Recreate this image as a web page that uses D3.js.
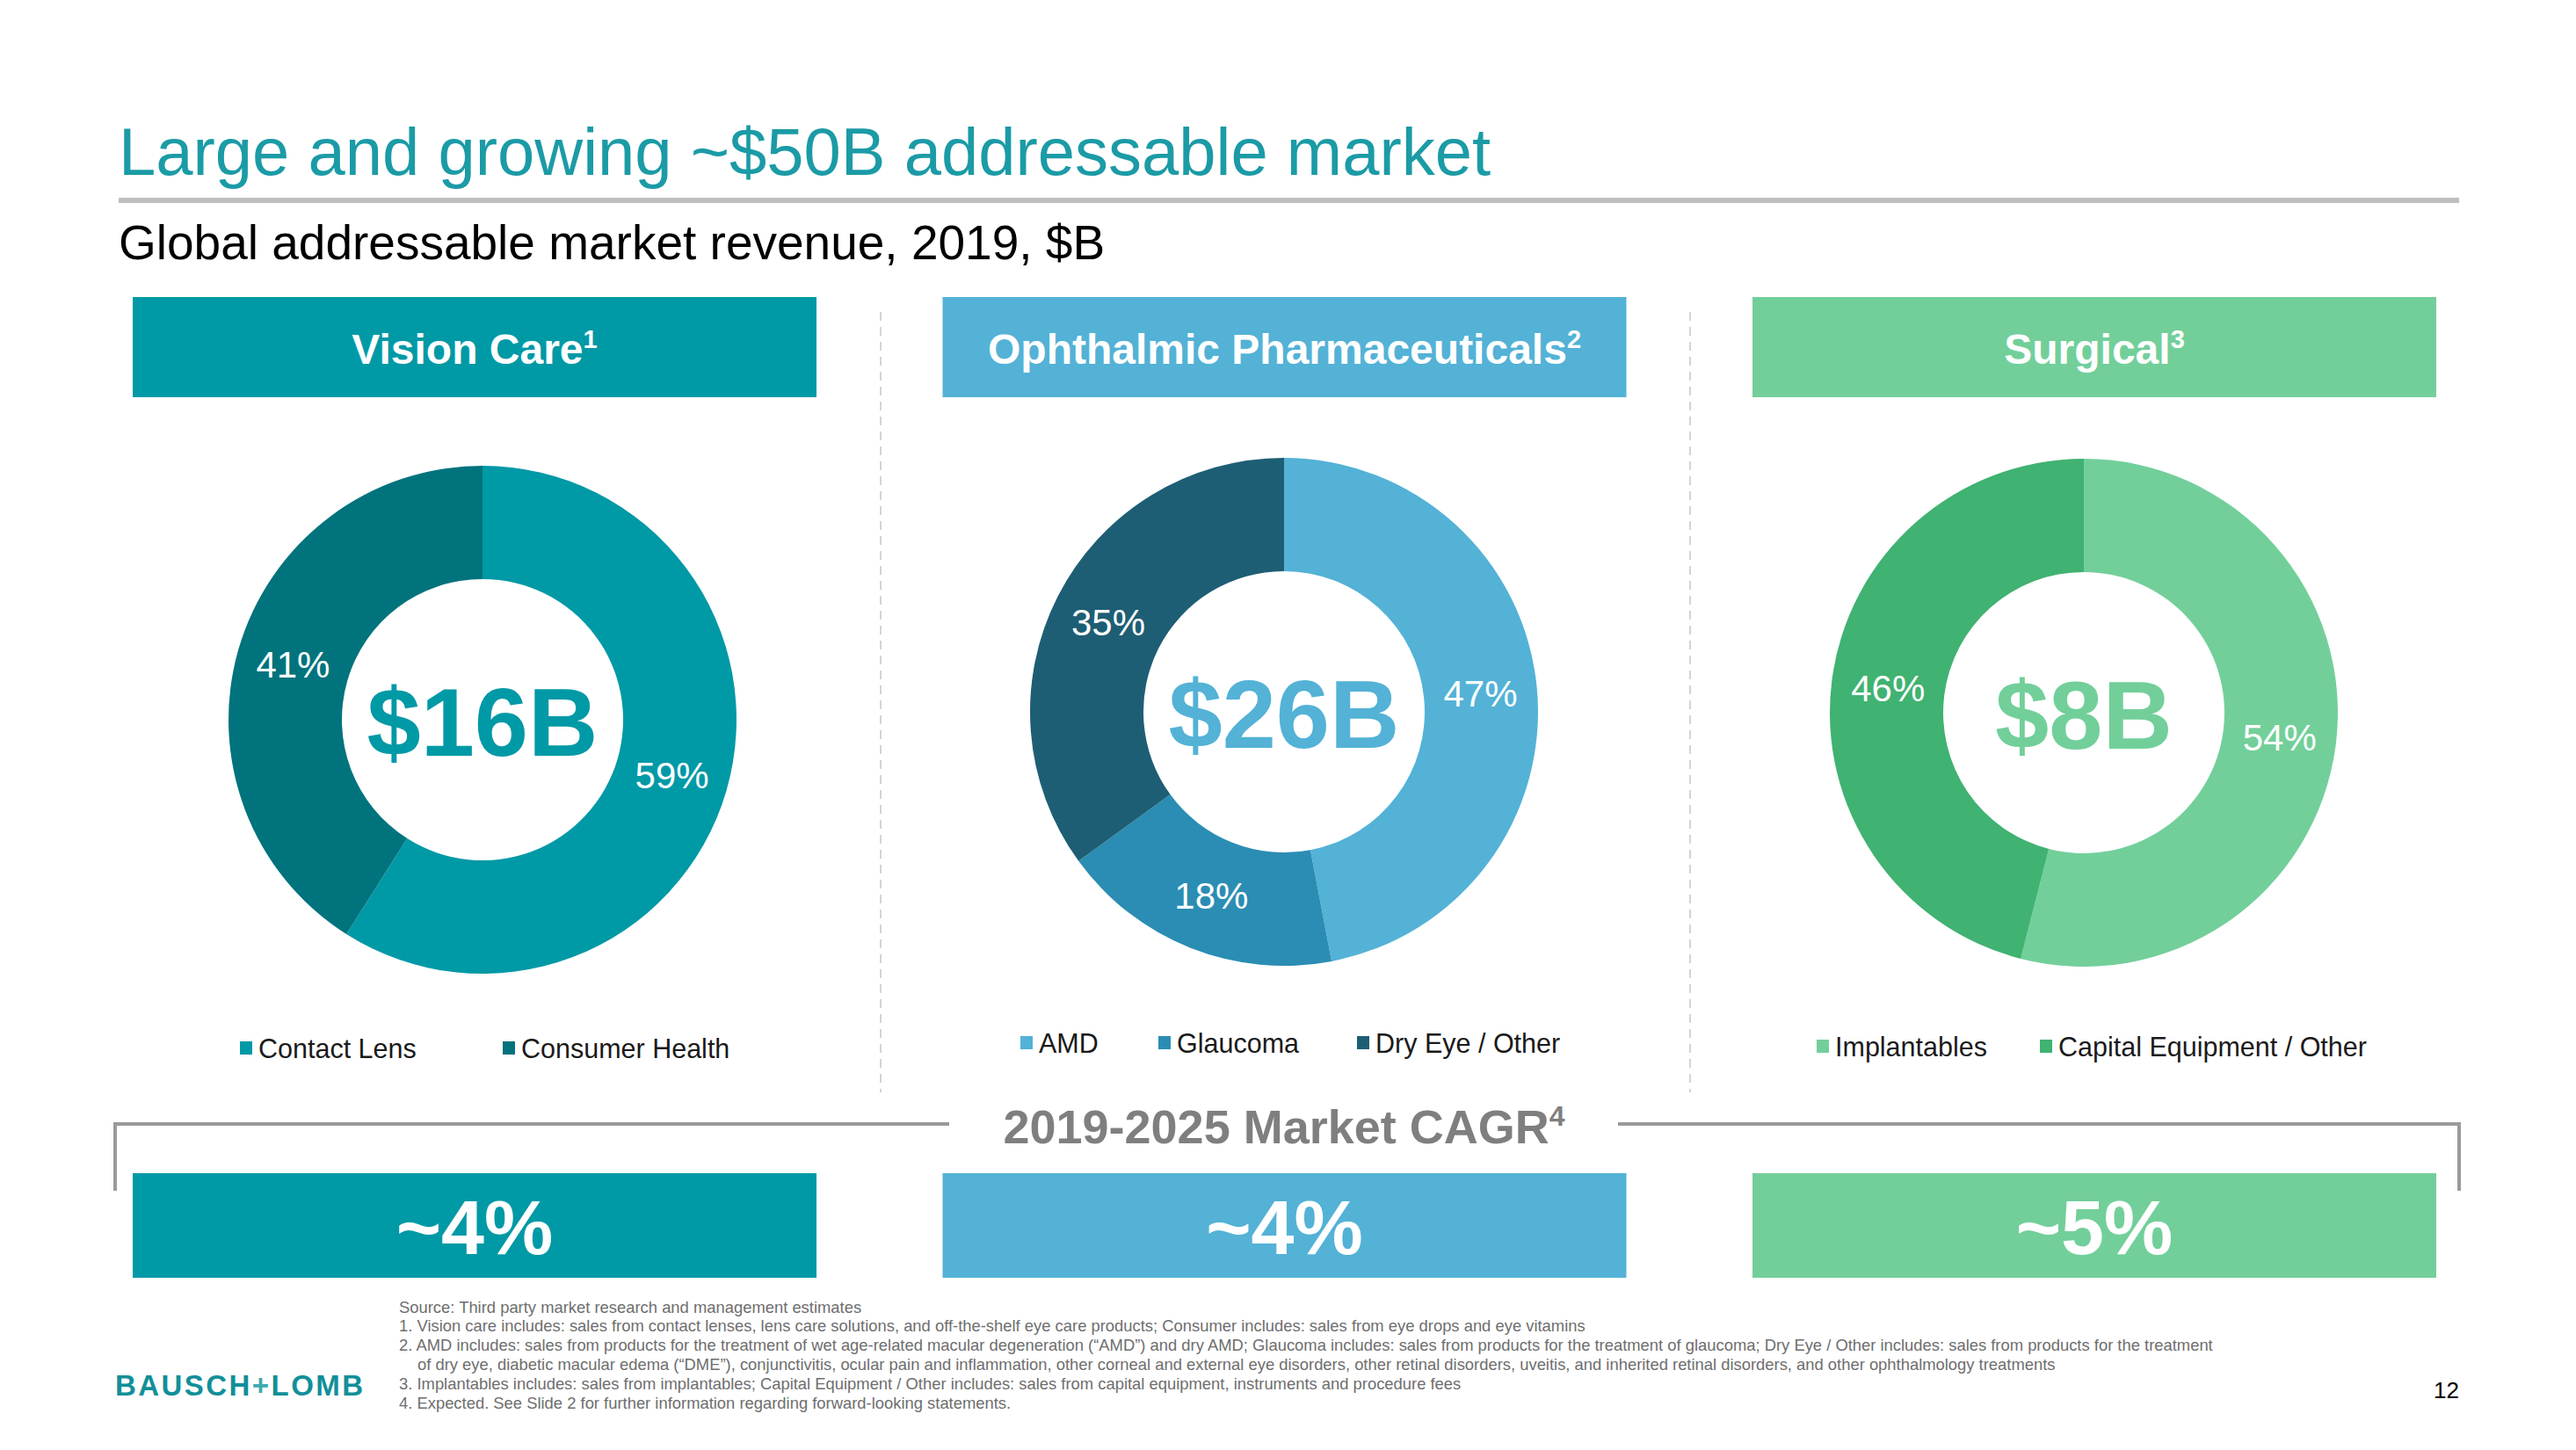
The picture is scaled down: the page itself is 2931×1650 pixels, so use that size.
<!DOCTYPE html>
<html><head><meta charset="utf-8">
<script src="https://cdn.jsdelivr.net/npm/d3@7"></script>
<style>
html,body{margin:0;padding:0;background:#fff;}
svg{display:block;font-family:"Liberation Sans",Arial,Helvetica,sans-serif;}
</style>
</head><body>
<svg id="chart" width="2931" height="1650"></svg>
<script>
// ---------------- DATA ----------------
const segmentNames = ["Vision Care", "Ophthalmic Pharmaceuticals", "Surgical"];
const segmentNotes = ["1", "2", "3"];
const marketTotals = ["$16B", "$26B", "$8B"];
const cagrValues = ["~4%", "~4%", "~5%"];

const visionCategories = ["Contact Lens", "Consumer Health"];
const visionShares = [59, 41];
const pharmaCategories = ["AMD", "Glaucoma", "Dry Eye / Other"];
const pharmaShares = [47, 18, 35];
const surgicalCategories = ["Implantables", "Capital Equipment / Other"];
const surgicalShares = [54, 46];

const titleText = "Large and growing ~$50B addressable market";
const subtitleText = "Global addressable market revenue, 2019, $B";
const cagrTitle = "2019-2025 Market CAGR";
const cagrNote = "4";
const footnotes = [
  "Source: Third party market research and management estimates",
  "1. Vision care includes: sales from contact lenses, lens care solutions, and off-the-shelf eye care products; Consumer includes: sales from eye drops and eye vitamins",
  "2. AMD includes: sales from products for the treatment of wet age-related macular degeneration (\u201CAMD\u201D) and dry AMD; Glaucoma includes: sales from products for the treatment of glaucoma; Dry Eye / Other includes: sales from products for the treatment",
  "of dry eye, diabetic macular edema (\u201CDME\u201D), conjunctivitis, ocular pain and inflammation, other corneal and external eye disorders, other retinal disorders, uveitis, and inherited retinal disorders, and other ophthalmology treatments",
  "3. Implantables includes: sales from implantables; Capital Equipment / Other includes: sales from capital equipment, instruments and procedure fees",
  "4. Expected.  See Slide 2 for further information regarding forward-looking statements."
];
const pageNumber = "12";

// ---------------- STYLE / LAYOUT ----------------
const headerColors = ["#0099A6", "#53B2D6", "#72CF9A"];
const sliceColors = [
  ["#0099A6", "#00737D"],
  ["#53B2D6", "#2B8DB3", "#1E5E74"],
  ["#72CF9A", "#40B271"]
];
const donutCx = [549, 1461, 2371];
const donutCy = [819, 810, 811];
const legendX = [[273, 572], [1161, 1318, 1544], [2067, 2321]];
const legendY = [1193, 1187, 1191];

const panels = [
  {cats: visionCategories, vals: visionShares},
  {cats: pharmaCategories, vals: pharmaShares},
  {cats: surgicalCategories, vals: surgicalShares}
];

const svg = d3.select("#chart");
svg.append("rect").attr("width", 2931).attr("height", 1650).attr("fill", "#fff");

// Title
svg.append("text").attr("x", 135).attr("y", 199)
  .attr("font-size", 76).attr("fill", "#1B9BA6").text(titleText);
svg.append("rect").attr("x", 135).attr("y", 225).attr("width", 2663).attr("height", 6).attr("fill", "#BFBFBF");
svg.append("text").attr("x", 135).attr("y", 295)
  .attr("font-size", 55).attr("fill", "#000").text(subtitleText);

const xBand = d3.scaleBand().domain(segmentNames).range([151, 2772]).paddingInner(0.1557);

// Dashed separators
[1002, 1923].forEach(x => {
  svg.append("line").attr("x1", x).attr("x2", x).attr("y1", 355).attr("y2", 1243)
    .attr("stroke", "#D4D4D4").attr("stroke-width", 2).attr("stroke-dasharray", "10,7");
});

// Header boxes
segmentNames.forEach((name, i) => {
  const x0 = xBand(name), w = xBand.bandwidth();
  svg.append("rect").attr("x", x0).attr("y", 338).attr("width", w).attr("height", 114)
    .attr("fill", headerColors[i]);
  const t = svg.append("text").attr("x", x0 + w / 2).attr("y", 414)
    .attr("text-anchor", "middle").attr("font-size", 48).attr("font-weight", "bold").attr("fill", "#fff");
  t.append("tspan").text(name);
  t.append("tspan").attr("font-size", 29).attr("dy", -18).text(segmentNotes[i]);
});

// Donuts
const pie = d3.pie().sort(null).value(d => d);
const arc = d3.arc().innerRadius(160).outerRadius(289);
panels.forEach((p, i) => {
  const g = svg.append("g").attr("transform", `translate(${donutCx[i]},${donutCy[i]})`);
  const arcs = pie(p.vals);
  g.selectAll("path").data(arcs).join("path")
    .attr("d", arc).attr("fill", (d, j) => sliceColors[i][j]);
  g.selectAll("text.pct").data(arcs).join("text").attr("class", "pct")
    .attr("transform", d => `translate(${arc.centroid(d)})`)
    .attr("text-anchor", "middle").attr("dy", "0.36em")
    .attr("font-size", 42).attr("fill", "#fff")
    .text(d => d.data + "%");
  g.append("text").attr("text-anchor", "middle").attr("y", 41)
    .attr("font-size", 110).attr("font-weight", "bold").attr("fill", sliceColors[i][0])
    .text(marketTotals[i]);

  // Legend
  p.cats.forEach((c, j) => {
    svg.append("rect").attr("x", legendX[i][j]).attr("y", legendY[i] - 8)
      .attr("width", 14).attr("height", 15).attr("fill", sliceColors[i][j]);
    svg.append("text").attr("x", legendX[i][j] + 21).attr("y", legendY[i] + 11)
      .attr("font-size", 30.5).attr("fill", "#1a1a1a").text(c);
  });
});

// CAGR bracket
const bracketColor = "#9A9A9A";
svg.append("path").attr("d", "M131,1355 V1279 H1080")
  .attr("fill", "none").attr("stroke", bracketColor).attr("stroke-width", 4);
svg.append("path").attr("d", "M1841,1279 H2798 V1355")
  .attr("fill", "none").attr("stroke", bracketColor).attr("stroke-width", 4);
const ct = svg.append("text").attr("x", 1461).attr("y", 1301).attr("text-anchor", "middle")
  .attr("font-size", 54).attr("font-weight", "bold").attr("fill", "#7F7F7F");
ct.append("tspan").text(cagrTitle);
ct.append("tspan").attr("font-size", 32).attr("dy", -20).text(cagrNote);

segmentNames.forEach((name, i) => {
  const x0 = xBand(name), w = xBand.bandwidth();
  svg.append("rect").attr("x", x0).attr("y", 1335).attr("width", w).attr("height", 119)
    .attr("fill", headerColors[i]);
  svg.append("text").attr("x", x0 + w / 2).attr("y", 1427).attr("text-anchor", "middle")
    .attr("font-size", 88).attr("font-weight", "bold").attr("fill", "#fff").text(cagrValues[i]);
});

// Footnotes
const fnX = [454, 454, 454, 475, 454, 454];
const fnY = [1494, 1515, 1537, 1559, 1581, 1603];
footnotes.forEach((f, i) => {
  svg.append("text").attr("x", fnX[i]).attr("y", fnY[i])
    .attr("font-size", 18.4).attr("fill", "#6E6E6E").text(f);
});

// Logo
const logo = svg.append("text").attr("x", 131).attr("y", 1588)
  .attr("font-size", 33).attr("font-weight", "bold").attr("fill", "#128F99")
  .attr("textLength", 282).attr("lengthAdjust", "spacing");
logo.append("tspan").text("BAUSCH");
logo.append("tspan").attr("fill", "#3FA9B0").text("+");
logo.append("tspan").text("LOMB");

// Page number
svg.append("text").attr("x", 2798).attr("y", 1591).attr("text-anchor", "end")
  .attr("font-size", 26).attr("fill", "#000").text(pageNumber);
</script>
</body></html>
